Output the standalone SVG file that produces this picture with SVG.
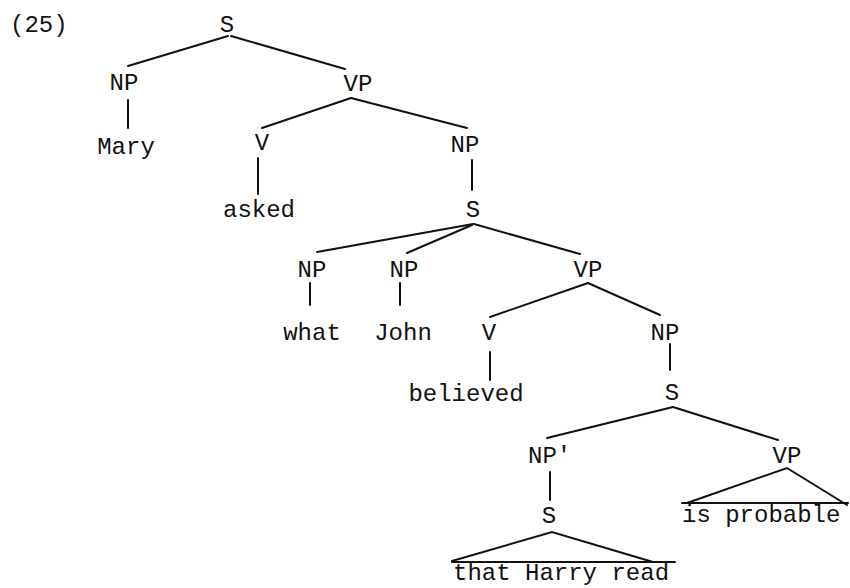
<svg xmlns="http://www.w3.org/2000/svg" width="850" height="588" viewBox="0 0 850 588">
<style>
text{font-family:"Liberation Mono","Courier New",monospace;font-size:24px;fill:#111}
.m{text-anchor:middle}
#edges line,#edges polyline{stroke:#111;stroke-width:2;fill:none;stroke-linecap:round}
</style>
<rect width="850" height="588" fill="#fff"/>
<text x="10" y="32" font-size="22">(25)</text>
<g id="edges">
<line x1="228" y1="36" x2="128" y2="66"/>
<line x1="231" y1="36" x2="345" y2="69"/>
<line x1="128" y1="100" x2="128" y2="128"/>
<line x1="351" y1="98" x2="262" y2="128"/>
<line x1="351" y1="98" x2="467" y2="128"/>
<line x1="258" y1="158" x2="258" y2="194"/>
<line x1="472" y1="160" x2="472" y2="190"/>
<line x1="473" y1="224" x2="317" y2="252"/>
<line x1="472" y1="225" x2="407" y2="253"/>
<line x1="474" y1="224" x2="580" y2="254"/>
<line x1="310" y1="283" x2="310" y2="305"/>
<line x1="400" y1="283" x2="400" y2="305"/>
<line x1="588" y1="283" x2="490" y2="317"/>
<line x1="588" y1="283" x2="660" y2="315"/>
<line x1="490" y1="352" x2="490" y2="380"/>
<line x1="670" y1="344" x2="670" y2="370"/>
<line x1="673" y1="407" x2="547" y2="438"/>
<line x1="673" y1="407" x2="778" y2="440"/>
<line x1="550" y1="472" x2="550" y2="500"/>
<polyline points="452,561 552,532 653,562"/>
<line x1="452" y1="562" x2="675" y2="562"/>
<polyline points="687,503 787,468 847,505"/>
<line x1="682" y1="503" x2="848" y2="503"/>
</g>
<g id="n-s1"><text class="m" x="227" y="32">S</text></g>
<g id="n-np1"><text class="m" x="124" y="90">NP</text></g>
<g id="n-mary"><text class="m" x="126" y="154">Mary</text></g>
<g id="n-vp1"><text class="m" x="358" y="91">VP</text></g>
<g id="n-v1"><text class="m" x="262" y="150">V</text></g>
<g id="n-asked"><text class="m" x="259" y="217">asked</text></g>
<g id="n-np2"><text class="m" x="465" y="152">NP</text></g>
<g id="n-s2"><text class="m" x="473" y="217">S</text></g>
<g id="n-np3"><text class="m" x="312" y="277">NP</text></g>
<g id="n-np4"><text class="m" x="404" y="277">NP</text></g>
<g id="n-vp2"><text class="m" x="588" y="277">VP</text></g>
<g id="n-what"><text class="m" x="312" y="340">what</text></g>
<g id="n-john"><text class="m" x="403" y="340">John</text></g>
<g id="n-v2"><text class="m" x="489" y="340">V</text></g>
<g id="n-believed"><text class="m" x="466" y="401">believed</text></g>
<g id="n-np5"><text class="m" x="665" y="340">NP</text></g>
<g id="n-s3"><text class="m" x="672" y="400">S</text></g>
<g id="n-npp"><text x="528" y="463">NP'</text></g>
<g id="n-vp3"><text class="m" x="787" y="463">VP</text></g>
<g id="n-s4"><text class="m" x="549" y="523">S</text></g>
<g id="n-isprobable"><text x="682" y="522">is probable</text></g>
<g id="n-thr"><text x="453" y="580">that Harry read</text></g>
</svg>
